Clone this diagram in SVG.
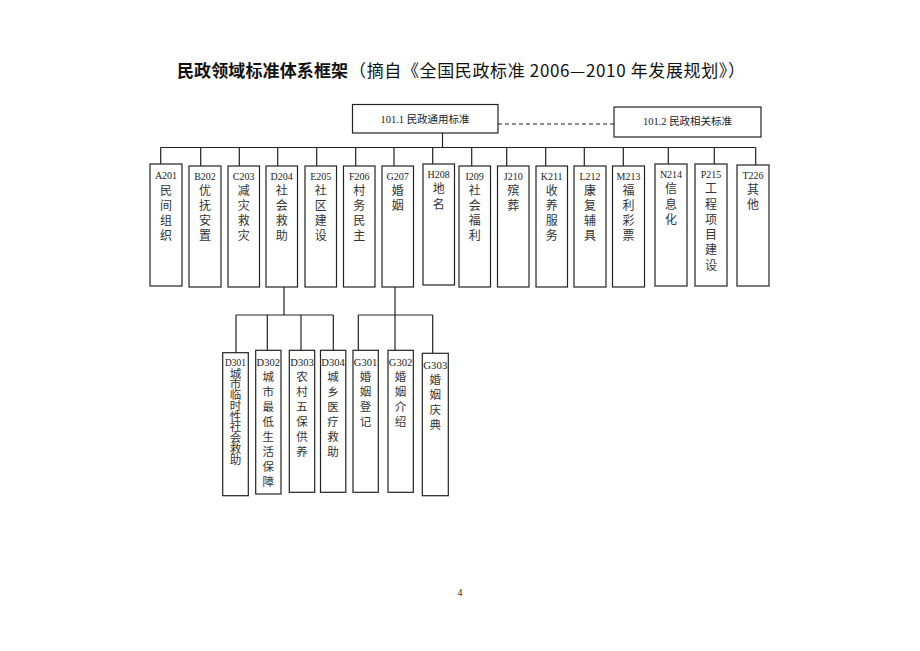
<svg xmlns="http://www.w3.org/2000/svg" width="920" height="651" viewBox="0 0 920 651">
<style>
.box{fill:#fff;stroke:#222;stroke-width:1.2}
.code{font-family:"Liberation Serif","Noto Sans CJK SC",serif;font-size:10px;fill:#222;text-anchor:middle}
.code3{font-family:"Liberation Serif","Noto Sans CJK SC",serif;font-size:11px;fill:#222;text-anchor:middle}
.ch{font-family:"Noto Sans CJK SC",sans-serif;font-size:12px;fill:#333;text-anchor:middle}
.ch3{font-family:"Noto Sans CJK SC",sans-serif;font-size:11.5px;fill:#333;text-anchor:middle}
.lbl{font-family:"Liberation Serif","Noto Sans CJK SC",serif;font-size:10.5px;fill:#222;text-anchor:middle}
.ln{stroke:#222;stroke-width:1.2;fill:none}
.dash{stroke:#222;stroke-width:1;fill:none;stroke-dasharray:4 3}
</style>
<rect width="920" height="651" fill="#fff"/>
<g id="title">
<text x="177" y="77" font-family="Noto Sans CJK SC, sans-serif" font-size="17" font-weight="bold" fill="#111" textLength="171" lengthAdjust="spacing">民政领域标准体系框架</text>
<text x="349" y="77" font-family="Noto Sans CJK SC, sans-serif" font-size="17" fill="#111" textLength="396" lengthAdjust="spacing">（摘自《全国民政标准 2006—2010 年发展规划》）</text>
</g>
<g id="connectors">
<line class="dash" x1="498" y1="124" x2="614" y2="124"/>
<line class="ln" x1="442.5" y1="133" x2="442.5" y2="147.5"/>
<line class="ln" x1="160.7" y1="147.5" x2="755.7" y2="147.5"/>
<line class="ln" x1="160.7" y1="147.5" x2="160.7" y2="164"/>
<line class="ln" x1="200.7" y1="147.5" x2="200.7" y2="166"/>
<line class="ln" x1="239.3" y1="147.5" x2="239.3" y2="166"/>
<line class="ln" x1="277.7" y1="147.5" x2="277.7" y2="166"/>
<line class="ln" x1="316.7" y1="147.5" x2="316.7" y2="166"/>
<line class="ln" x1="355.7" y1="147.5" x2="355.7" y2="166"/>
<line class="ln" x1="394" y1="147.5" x2="394" y2="166"/>
<line class="ln" x1="432.7" y1="147.5" x2="432.7" y2="164"/>
<line class="ln" x1="471.7" y1="147.5" x2="471.7" y2="166"/>
<line class="ln" x1="506.7" y1="147.5" x2="506.7" y2="166"/>
<line class="ln" x1="545.7" y1="147.5" x2="545.7" y2="166"/>
<line class="ln" x1="584.3" y1="147.5" x2="584.3" y2="166"/>
<line class="ln" x1="623.3" y1="147.5" x2="623.3" y2="166"/>
<line class="ln" x1="668.3" y1="147.5" x2="668.3" y2="164"/>
<line class="ln" x1="714.3" y1="147.5" x2="714.3" y2="164"/>
<line class="ln" x1="755.7" y1="147.5" x2="755.7" y2="165"/>
<line class="ln" x1="284" y1="287" x2="284" y2="315"/>
<line class="ln" x1="236" y1="315" x2="333.3" y2="315"/>
<line class="ln" x1="236" y1="315" x2="236" y2="352.7"/>
<line class="ln" x1="267.3" y1="315" x2="267.3" y2="350.3"/>
<line class="ln" x1="301" y1="315" x2="301" y2="350.3"/>
<line class="ln" x1="333.3" y1="315" x2="333.3" y2="350.3"/>
<line class="ln" x1="395" y1="287" x2="395" y2="315"/>
<line class="ln" x1="358.3" y1="315" x2="432.7" y2="315"/>
<line class="ln" x1="358.3" y1="315" x2="358.3" y2="350.3"/>
<line class="ln" x1="395" y1="315" x2="395" y2="350.3"/>
<line class="ln" x1="432.7" y1="315" x2="432.7" y2="353.3"/>
</g>
<g id="n101_1"><rect class="box" x="352.5" y="104.5" width="145.5" height="28.5"/><text class="lbl" x="425" y="122.5">101.1 民政通用标准</text></g>
<g id="n101_2"><rect class="box" x="614" y="107" width="147" height="30"/><text class="lbl" x="687.5" y="125">101.2 民政相关标准</text></g>

<g id="A201"><rect class="box" x="150" y="164" width="32" height="122"/><text class="code" x="166" y="178.5">A201</text><text class="ch"><tspan x="166" y="194.5">民</tspan><tspan x="166" dy="15.3">间</tspan><tspan x="166" dy="15.3">组</tspan><tspan x="166" dy="15.3">织</tspan></text></g>
<g id="B202"><rect class="box" x="189" y="166" width="32" height="121"/><text class="code" x="205" y="180">B202</text><text class="ch"><tspan x="205" y="194.5">优</tspan><tspan x="205" dy="15.3">抚</tspan><tspan x="205" dy="15.3">安</tspan><tspan x="205" dy="15.3">置</tspan></text></g>
<g id="C203"><rect class="box" x="228" y="166" width="31.5" height="121"/><text class="code" x="243.7" y="180">C203</text><text class="ch"><tspan x="243.7" y="194.5">减</tspan><tspan x="243.7" dy="15.3">灾</tspan><tspan x="243.7" dy="15.3">救</tspan><tspan x="243.7" dy="15.3">灾</tspan></text></g>
<g id="D204"><rect class="box" x="266" y="166" width="31.5" height="121"/><text class="code" x="281.7" y="180">D204</text><text class="ch"><tspan x="281.7" y="194.5">社</tspan><tspan x="281.7" dy="15.3">会</tspan><tspan x="281.7" dy="15.3">救</tspan><tspan x="281.7" dy="15.3">助</tspan></text></g>
<g id="E205"><rect class="box" x="305" y="166" width="31.5" height="121"/><text class="code" x="320.7" y="180">E205</text><text class="ch"><tspan x="320.7" y="194.5">社</tspan><tspan x="320.7" dy="15.3">区</tspan><tspan x="320.7" dy="15.3">建</tspan><tspan x="320.7" dy="15.3">设</tspan></text></g>
<g id="F206"><rect class="box" x="343.5" y="166" width="31.5" height="121"/><text class="code" x="359.2" y="180">F206</text><text class="ch"><tspan x="359.2" y="194.5">村</tspan><tspan x="359.2" dy="15.3">务</tspan><tspan x="359.2" dy="15.3">民</tspan><tspan x="359.2" dy="15.3">主</tspan></text></g>
<g id="G207"><rect class="box" x="382" y="166" width="31.5" height="121"/><text class="code" x="397.7" y="180">G207</text><text class="ch"><tspan x="397.7" y="194.5">婚</tspan><tspan x="397.7" dy="15.3">姻</tspan></text></g>
<g id="H208"><rect class="box" x="423" y="164" width="31.5" height="121"/><text class="code" x="438.7" y="178">H208</text><text class="ch"><tspan x="438.7" y="193.2">地</tspan><tspan x="438.7" dy="15.3">名</tspan></text></g>
<g id="I209"><rect class="box" x="459" y="166" width="31.5" height="121"/><text class="code" x="474.7" y="180">I209</text><text class="ch"><tspan x="474.7" y="194.5">社</tspan><tspan x="474.7" dy="15.3">会</tspan><tspan x="474.7" dy="15.3">福</tspan><tspan x="474.7" dy="15.3">利</tspan></text></g>
<g id="J210"><rect class="box" x="497.5" y="166" width="31.5" height="121"/><text class="code" x="513.2" y="180">J210</text><text class="ch"><tspan x="513.2" y="194.5">殡</tspan><tspan x="513.2" dy="15.3">葬</tspan></text></g>
<g id="K211"><rect class="box" x="536" y="166" width="31.5" height="121"/><text class="code" x="551.7" y="180">K211</text><text class="ch"><tspan x="551.7" y="194.5">收</tspan><tspan x="551.7" dy="15.3">养</tspan><tspan x="551.7" dy="15.3">服</tspan><tspan x="551.7" dy="15.3">务</tspan></text></g>
<g id="L212"><rect class="box" x="574" y="166" width="32" height="121"/><text class="code" x="590" y="180">L212</text><text class="ch"><tspan x="590" y="194.5">康</tspan><tspan x="590" dy="15.3">复</tspan><tspan x="590" dy="15.3">辅</tspan><tspan x="590" dy="15.3">具</tspan></text></g>
<g id="M213"><rect class="box" x="612.5" y="166" width="32" height="121"/><text class="code" x="628.5" y="180">M213</text><text class="ch"><tspan x="628.5" y="194.5">福</tspan><tspan x="628.5" dy="15.3">利</tspan><tspan x="628.5" dy="15.3">彩</tspan><tspan x="628.5" dy="15.3">票</tspan></text></g>
<g id="N214"><rect class="box" x="655" y="164" width="32" height="122"/><text class="code" x="671" y="178">N214</text><text class="ch"><tspan x="671" y="193.2">信</tspan><tspan x="671" dy="15.3">息</tspan><tspan x="671" dy="15.3">化</tspan></text></g>
<g id="P215"><rect class="box" x="695" y="164" width="32" height="122"/><text class="code" x="711" y="178">P215</text><text class="ch"><tspan x="711" y="193.2">工</tspan><tspan x="711" dy="15.3">程</tspan><tspan x="711" dy="15.3">项</tspan><tspan x="711" dy="15.3">目</tspan><tspan x="711" dy="15.3">建</tspan><tspan x="711" dy="15.3">设</tspan></text></g>
<g id="T226"><rect class="box" x="737" y="165" width="32" height="121"/><text class="code" x="753" y="178.5">T226</text><text class="ch"><tspan x="753" y="193.8">其</tspan><tspan x="753" dy="15.3">他</tspan></text></g>

<g id="D301"><rect class="box" x="222.7" y="352.7" width="25.6" height="143"/><text class="code3" x="235.5" y="365.5" font-size="9" textLength="21" lengthAdjust="spacingAndGlyphs">D301</text><text class="ch3" font-size="9"><tspan x="235.5" y="377.5">城</tspan><tspan x="235.5" dy="10.75">市</tspan><tspan x="235.5" dy="10.75">临</tspan><tspan x="235.5" dy="10.75">时</tspan><tspan x="235.5" dy="10.75">性</tspan><tspan x="235.5" dy="10.75">社</tspan><tspan x="235.5" dy="10.75">会</tspan><tspan x="235.5" dy="10.75">救</tspan><tspan x="235.5" dy="10.75">助</tspan></text></g>
<g id="D302"><rect class="box" x="255.7" y="350.3" width="25.3" height="143.7"/><text class="code3" x="268.3" y="366" textLength="23.5" lengthAdjust="spacingAndGlyphs">D302</text><text class="ch3"><tspan x="268.3" y="381.3">城</tspan><tspan x="268.3" dy="15">市</tspan><tspan x="268.3" dy="15">最</tspan><tspan x="268.3" dy="15">低</tspan><tspan x="268.3" dy="15">生</tspan><tspan x="268.3" dy="15">活</tspan><tspan x="268.3" dy="15">保</tspan><tspan x="268.3" dy="15">障</tspan></text></g>
<g id="D303"><rect class="box" x="289.3" y="350.3" width="25.4" height="142"/><text class="code3" x="302" y="366" textLength="23.5" lengthAdjust="spacingAndGlyphs">D303</text><text class="ch3"><tspan x="302" y="381.3">农</tspan><tspan x="302" dy="15">村</tspan><tspan x="302" dy="15">五</tspan><tspan x="302" dy="15">保</tspan><tspan x="302" dy="15">供</tspan><tspan x="302" dy="15">养</tspan></text></g>
<g id="D304"><rect class="box" x="320.5" y="350.3" width="25.3" height="142"/><text class="code3" x="333.1" y="366" textLength="23.5" lengthAdjust="spacingAndGlyphs">D304</text><text class="ch3"><tspan x="333.1" y="381.3">城</tspan><tspan x="333.1" dy="15">乡</tspan><tspan x="333.1" dy="15">医</tspan><tspan x="333.1" dy="15">疗</tspan><tspan x="333.1" dy="15">救</tspan><tspan x="333.1" dy="15">助</tspan></text></g>
<g id="G301"><rect class="box" x="353" y="350.3" width="25.3" height="142"/><text class="code3" x="365.6" y="366" textLength="23.5" lengthAdjust="spacingAndGlyphs">G301</text><text class="ch3"><tspan x="365.6" y="381.3">婚</tspan><tspan x="365.6" dy="15">姻</tspan><tspan x="365.6" dy="15">登</tspan><tspan x="365.6" dy="15">记</tspan></text></g>
<g id="G302"><rect class="box" x="388" y="350.3" width="25.3" height="142"/><text class="code3" x="400.6" y="366" textLength="23.5" lengthAdjust="spacingAndGlyphs">G302</text><text class="ch3"><tspan x="400.6" y="381.3">婚</tspan><tspan x="400.6" dy="15">姻</tspan><tspan x="400.6" dy="15">介</tspan><tspan x="400.6" dy="15">绍</tspan></text></g>
<g id="G303"><rect class="box" x="422.3" y="353.3" width="26" height="142.4"/><text class="code3" x="435.3" y="369" textLength="24" lengthAdjust="spacingAndGlyphs">G303</text><text class="ch3"><tspan x="435.3" y="384.3">婚</tspan><tspan x="435.3" dy="15">姻</tspan><tspan x="435.3" dy="15">庆</tspan><tspan x="435.3" dy="15">典</tspan></text></g>

<g id="page"><text x="460" y="595.5" font-family="Liberation Serif, serif" font-size="10" fill="#222" text-anchor="middle">4</text></g>
</svg>
